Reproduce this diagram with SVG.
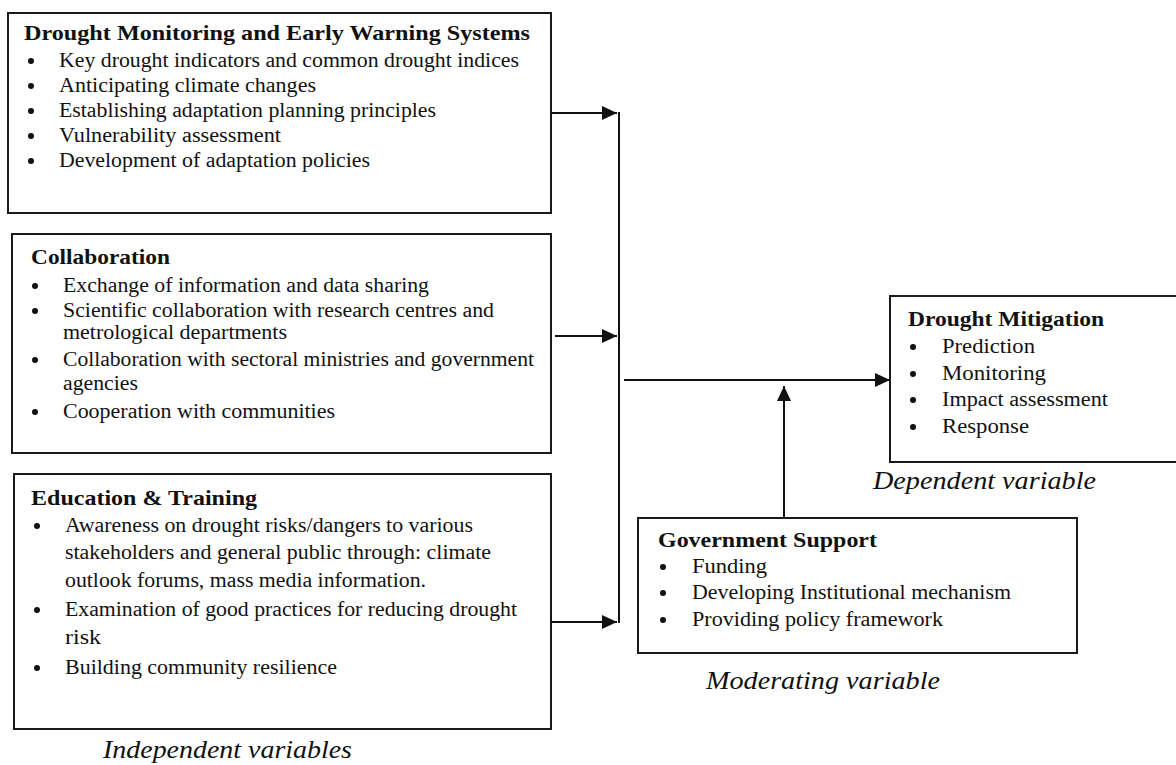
<svg xmlns="http://www.w3.org/2000/svg" width="1176" height="765" viewBox="0 0 1176 765">
<style>
.box{fill:#fff;stroke:#1a1a1a;stroke-width:2}
.t{font-family:"Liberation Serif","Times New Roman",serif;font-size:21px;font-weight:bold;fill:#111}
.i{font-family:"Liberation Serif","Times New Roman",serif;font-size:20px;fill:#111}
.lab{font-family:"Liberation Serif","Times New Roman",serif;font-size:25px;font-style:italic;fill:#111}
.b{fill:#111}
.c{stroke:#111;stroke-width:2;fill:none}
</style>
<defs>
<marker id="ah" markerUnits="userSpaceOnUse" markerWidth="16" markerHeight="14" refX="15" refY="7" orient="auto">
<path d="M0,0 L15,7 L0,14 z" fill="#111"/>
</marker>
</defs>
<rect width="1176" height="765" fill="#fff"/>

<g id="node-dmews">
<rect class="box" x="8" y="13" width="543" height="200"/>
<text class="t" x="24" y="40" textLength="506" lengthAdjust="spacingAndGlyphs">Drought Monitoring and Early Warning Systems</text>
<circle class="b" cx="31" cy="61" r="3"/><text class="i" x="59" y="67" textLength="460" lengthAdjust="spacingAndGlyphs">Key drought indicators and common drought indices</text>
<circle class="b" cx="31" cy="86" r="3"/><text class="i" x="59" y="92" textLength="257" lengthAdjust="spacingAndGlyphs">Anticipating climate changes</text>
<circle class="b" cx="31" cy="111" r="3"/><text class="i" x="59" y="117" textLength="377" lengthAdjust="spacingAndGlyphs">Establishing adaptation planning principles</text>
<circle class="b" cx="31" cy="136" r="3"/><text class="i" x="59" y="142" textLength="222" lengthAdjust="spacingAndGlyphs">Vulnerability assessment</text>
<circle class="b" cx="31" cy="161" r="3"/><text class="i" x="59" y="167" textLength="311" lengthAdjust="spacingAndGlyphs">Development of adaptation policies</text>
</g>

<g id="node-collab">
<rect class="box" x="12" y="234" width="539" height="219"/>
<text class="t" x="31" y="264" textLength="139" lengthAdjust="spacingAndGlyphs">Collaboration</text>
<circle class="b" cx="35" cy="286" r="3"/><text class="i" x="63" y="292" textLength="366" lengthAdjust="spacingAndGlyphs">Exchange of information and data sharing</text>
<circle class="b" cx="35" cy="311" r="3"/><text class="i" x="63" y="317" textLength="431" lengthAdjust="spacingAndGlyphs">Scientific collaboration with research centres and</text>
<text class="i" x="63" y="339" textLength="224" lengthAdjust="spacingAndGlyphs">metrological departments</text>
<circle class="b" cx="35" cy="360" r="3"/><text class="i" x="63" y="366" textLength="471" lengthAdjust="spacingAndGlyphs">Collaboration with sectoral ministries and government</text>
<text class="i" x="63" y="390" textLength="75" lengthAdjust="spacingAndGlyphs">agencies</text>
<circle class="b" cx="35" cy="412" r="3"/><text class="i" x="63" y="418" textLength="272" lengthAdjust="spacingAndGlyphs">Cooperation with communities</text>
</g>

<g id="node-edu">
<rect class="box" x="14" y="474" width="537" height="255"/>
<text class="t" x="31" y="505" textLength="226" lengthAdjust="spacingAndGlyphs">Education &amp; Training</text>
<circle class="b" cx="37" cy="526" r="3"/><text class="i" x="65" y="532" textLength="408" lengthAdjust="spacingAndGlyphs">Awareness on drought risks/dangers to various</text>
<text class="i" x="65" y="559" textLength="426" lengthAdjust="spacingAndGlyphs">stakeholders and general public through: climate</text>
<text class="i" x="65" y="587" textLength="361" lengthAdjust="spacingAndGlyphs">outlook forums, mass media information.</text>
<circle class="b" cx="37" cy="610" r="3"/><text class="i" x="65" y="616" textLength="452" lengthAdjust="spacingAndGlyphs">Examination of good practices for reducing drought</text>
<text class="i" x="65" y="644" textLength="36" lengthAdjust="spacingAndGlyphs">risk</text>
<circle class="b" cx="37" cy="668" r="3"/><text class="i" x="65" y="674" textLength="272" lengthAdjust="spacingAndGlyphs">Building community resilience</text>
</g>

<g id="node-mitigation">
<rect class="box" x="890" y="296" width="300" height="166"/>
<text class="t" x="908" y="326" textLength="196" lengthAdjust="spacingAndGlyphs">Drought Mitigation</text>
<circle class="b" cx="913" cy="347" r="3"/><text class="i" x="942" y="353" textLength="93" lengthAdjust="spacingAndGlyphs">Prediction</text>
<circle class="b" cx="913" cy="374" r="3"/><text class="i" x="942" y="380" textLength="104" lengthAdjust="spacingAndGlyphs">Monitoring</text>
<circle class="b" cx="913" cy="400" r="3"/><text class="i" x="942" y="406" textLength="166" lengthAdjust="spacingAndGlyphs">Impact assessment</text>
<circle class="b" cx="913" cy="427" r="3"/><text class="i" x="942" y="433" textLength="87" lengthAdjust="spacingAndGlyphs">Response</text>
</g>

<g id="node-gov">
<rect class="box" x="638" y="518" width="439" height="135"/>
<text class="t" x="658" y="547" textLength="219" lengthAdjust="spacingAndGlyphs">Government Support</text>
<circle class="b" cx="663" cy="567" r="3"/><text class="i" x="692" y="573" textLength="75" lengthAdjust="spacingAndGlyphs">Funding</text>
<circle class="b" cx="663" cy="593" r="3"/><text class="i" x="692" y="599" textLength="319" lengthAdjust="spacingAndGlyphs">Developing Institutional mechanism</text>
<circle class="b" cx="663" cy="620" r="3"/><text class="i" x="692" y="626" textLength="251" lengthAdjust="spacingAndGlyphs">Providing policy framework</text>
</g>

<g id="labels">
<text class="lab" x="103" y="758" textLength="249" lengthAdjust="spacingAndGlyphs">Independent variables</text>
<text class="lab" x="873" y="489" textLength="223" lengthAdjust="spacingAndGlyphs">Dependent variable</text>
<text class="lab" x="706" y="689" textLength="234" lengthAdjust="spacingAndGlyphs">Moderating variable</text>
</g>

<g id="connectors">
<line class="c" x1="551" y1="113" x2="617" y2="113" marker-end="url(#ah)"/>
<line class="c" x1="555" y1="336" x2="617" y2="336" marker-end="url(#ah)"/>
<line class="c" x1="551" y1="622" x2="617" y2="622" marker-end="url(#ah)"/>
<line class="c" x1="619" y1="112" x2="619" y2="623"/>
<line class="c" x1="624" y1="380" x2="890" y2="380" marker-end="url(#ah)"/>
<line class="c" x1="784" y1="518" x2="784" y2="386" marker-end="url(#ah)"/>
</g>
</svg>
